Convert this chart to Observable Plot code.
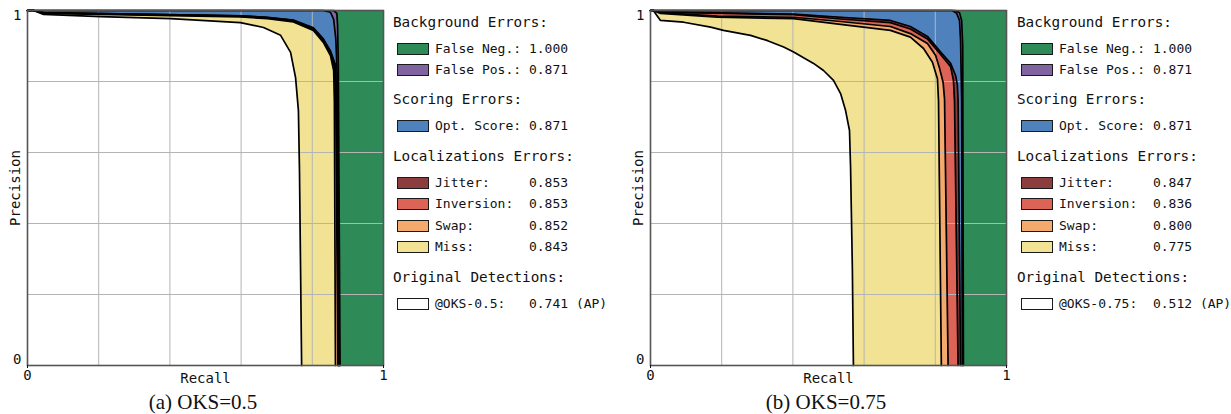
<!DOCTYPE html>
<html><head><meta charset="utf-8">
<script src="https://cdn.jsdelivr.net/npm/d3@7"></script>
<script src="https://cdn.jsdelivr.net/npm/@observablehq/plot@0.6"></script>
<style>
body{margin:0;background:#fff;width:1231px;height:414px;overflow:hidden;position:relative;font-family:"DejaVu Sans Mono",monospace;color:#111;}
.abs{position:absolute;}
.hd{position:absolute;font-size:14.3px;white-space:pre;line-height:16px;}
.it{position:absolute;font-size:13px;white-space:pre;line-height:15px;}
.bx{position:absolute;width:30px;height:10px;border:1.3px solid #1a1a1a;}
.cap{position:absolute;font-family:"Liberation Serif",serif;font-size:21px;text-align:center;line-height:24px;}
</style></head><body>
<script>
// ---------- data ----------
const seriesNames = ["False Neg.", "False Pos.", "Opt. Score", "Jitter", "Inversion", "Swap", "Miss", "Original"];
const seriesColors = ["#2e8b57", "#8064a2", "#4f81bd", "#8c3d3d", "#dc6356", "#f4a96d", "#f1e393", "#ffffff"];
const headings = ["Background Errors:", "Scoring Errors:", "Localizations Errors:", "Original Detections:"];
const legendLabels = ["False Neg.:", "False Pos.:", "Opt. Score:", "Jitter:", "Inversion:", "Swap:", "Miss:"];
const xTicks = [0, 1];
const gridTicks = [0.2, 0.4, 0.6, 0.8];

// panel (a) OKS=0.5 : [recall, precision]
const a_fn  = [[0,1],[1,1]];
const a_fp  = [[0,1],[0.86,1],[0.869,0.992],[0.871,0.958],[0.873,0.85],[0.878,0]];
const a_opt = [[0,1],[0.83,1],[0.851,0.995],[0.86,0.975],[0.866,0.92],[0.869,0.845],[0.871,0.79],[0.876,0]];
const a_jit = [[0,1],[0.017,1],[0.045,0.994],[0.598,0.985],[0.674,0.981],[0.747,0.973],[0.803,0.951],[0.831,0.92],[0.851,0.886],[0.865,0.847],[0.869,0.75],[0.875,0]];
const a_inv = [[0,1],[0.017,1],[0.045,0.994],[0.598,0.985],[0.674,0.98],[0.747,0.972],[0.803,0.95],[0.831,0.918],[0.851,0.884],[0.864,0.845],[0.868,0.75],[0.874,0]];
const a_swp = [[0,1],[0.017,1],[0.045,0.993],[0.598,0.984],[0.674,0.979],[0.747,0.971],[0.803,0.948],[0.831,0.915],[0.851,0.88],[0.862,0.84],[0.866,0.75],[0.872,0]];
const a_mis = [[0,1],[0.017,1],[0.045,0.992],[0.598,0.982],[0.674,0.977],[0.747,0.968],[0.803,0.944],[0.831,0.91],[0.851,0.873],[0.86,0.831],[0.862,0.746],[0.865,0]];
const a_org = [[0,1],[0.017,1],[0.045,0.989],[0.205,0.983],[0.402,0.977],[0.598,0.966],[0.663,0.952],[0.711,0.93],[0.739,0.882],[0.753,0.811],[0.761,0.718],[0.764,0.549],[0.77,0]];
const a_values = ["1.000", "0.871", "0.871", "0.853", "0.853", "0.852", "0.843", "0.741"];
const a_origLabel = "@OKS-0.5:";
const a_caption = "(a) OKS=0.5";

// panel (b) OKS=0.75
const b_fn  = [[0,1],[1,1]];
const b_fp  = [[0,1],[0.857,1],[0.868,0.994],[0.874,0.972],[0.877,0.9],[0.879,0]];
const b_opt = [[0,1],[0.847,1],[0.86,0.992],[0.868,0.972],[0.871,0.915],[0.874,0.746],[0.876,0]];
const b_jit = [[0,1],[0.008,1],[0.028,0.996],[0.402,0.99],[0.534,0.981],[0.674,0.972],[0.73,0.955],[0.778,0.927],[0.815,0.883],[0.843,0.851],[0.857,0.817],[0.862,0.79],[0.864,0.746],[0.871,0]];
const b_inv = [[0,1],[0.008,1],[0.028,0.995],[0.402,0.988],[0.534,0.976],[0.674,0.966],[0.73,0.948],[0.778,0.92],[0.815,0.876],[0.843,0.842],[0.851,0.803],[0.854,0.746],[0.864,0]];
const b_swp = [[0,1],[0.008,1],[0.028,0.994],[0.188,0.984],[0.402,0.981],[0.534,0.969],[0.674,0.955],[0.73,0.935],[0.778,0.907],[0.801,0.873],[0.812,0.837],[0.822,0.797],[0.826,0.75],[0.836,0]];
const b_mis = [[0,1],[0.008,1],[0.028,0.992],[0.188,0.981],[0.402,0.977],[0.534,0.961],[0.674,0.944],[0.73,0.925],[0.767,0.893],[0.792,0.854],[0.806,0.808],[0.809,0.746],[0.817,0]];
const b_org = [[0,1],[0.008,1],[0.02,0.983],[0.028,0.972],[0.093,0.967],[0.169,0.953],[0.205,0.944],[0.281,0.93],[0.329,0.915],[0.374,0.897],[0.402,0.883],[0.458,0.851],[0.486,0.831],[0.514,0.803],[0.534,0.766],[0.548,0.718],[0.559,0.662],[0.562,0.558],[0.567,0.276],[0.57,0]];
const b_values = ["1.000", "0.871", "0.871", "0.847", "0.836", "0.800", "0.775", "0.512"];
const b_origLabel = "@OKS-0.75:";
const b_caption = "(b) OKS=0.75";

// ---------- drawing ----------
const fmt = d => String(d);
function makePlot(curves) {
  const areas = curves.map((c, i) => Plot.areaY(c, {x: d => d[0], y: d => d[1], fill: seriesColors[i], curve: "linear"}));
  const lines = curves.slice(1).map(c => Plot.line(c, {x: d => d[0], y: d => d[1], stroke: "#000", strokeWidth: 1.7, curve: "linear"}));
  return Plot.plot({
    width: 392, height: 392,
    marginLeft: 27, marginTop: 10, marginRight: 9, marginBottom: 27,
    x: {domain: [0, 1]}, y: {domain: [0, 1]},
    style: {fontFamily: "DejaVu Sans Mono", fontSize: "14px", color: "#111", background: "transparent", overflow: "visible"},
    marks: [
      ...areas,
      Plot.gridX(gridTicks, {stroke: "#b4b4b4", strokeOpacity: 1, strokeWidth: 1}),
      Plot.gridY(gridTicks, {stroke: "#b4b4b4", strokeOpacity: 1, strokeWidth: 1}),
      ...lines,
      Plot.frame({stroke: "#555", strokeWidth: 1.6}),
      Plot.axisX(xTicks, {tickSize: 3, tickPadding: 2, tickFormat: fmt, label: "Recall", labelAnchor: "center", labelArrow: "none", labelOffset: 17, fontSize: 14}),
      Plot.axisY([1], {tickSize: 0, tickPadding: 6, dy: 5, tickFormat: fmt, label: "Precision", labelAnchor: "center", labelArrow: "none", labelOffset: 17, fontSize: 14}),
      Plot.axisY([0], {tickSize: 0, tickPadding: 6, dy: -6, tickFormat: fmt, label: null, fontSize: 14})
    ]
  });
}

function addDiv(cls, text, left, top, extra) {
  const d = document.createElement("div");
  d.className = cls;
  if (text != null) d.textContent = text;
  d.style.left = left + "px";
  d.style.top = top + "px";
  if (extra) Object.assign(d.style, extra);
  document.body.appendChild(d);
  return d;
}

function makeLegend(x0, values, origLabel) {
  const headY = [23, 100, 157, 278];
  const itemY = [49, 70, 126, 183, 204, 226, 247, 304];
  headings.forEach((h, i) => addDiv("hd", h, x0, headY[i] - 9));
  const labels = legendLabels.concat([origLabel]);
  labels.forEach((lab, i) => {
    addDiv("bx", null, x0 + 4, itemY[i] - 6, {background: seriesColors[i]});
    let txt = lab.padEnd(12) + values[i];
    if (i === labels.length - 1) txt += " (AP)";
    addDiv("it", txt, x0 + 42, itemY[i] - 8);
  });
}

function panel(left, curves, values, origLabel, caption, legendX, capLeft, capWidth) {
  const p = makePlot(curves);
  const wrap = addDiv("abs", null, left, 0);
  wrap.appendChild(p);
  makeLegend(legendX, values, origLabel);
  addDiv("cap", caption, capLeft, 390, {width: capWidth + "px"});
}

panel(0, [a_fn, a_fp, a_opt, a_jit, a_inv, a_swp, a_mis, a_org], a_values, a_origLabel, a_caption, 393, 0, 406);
panel(623, [b_fn, b_fp, b_opt, b_jit, b_inv, b_swp, b_mis, b_org], b_values, b_origLabel, b_caption, 1017, 620, 412);
</script>
</body></html>
